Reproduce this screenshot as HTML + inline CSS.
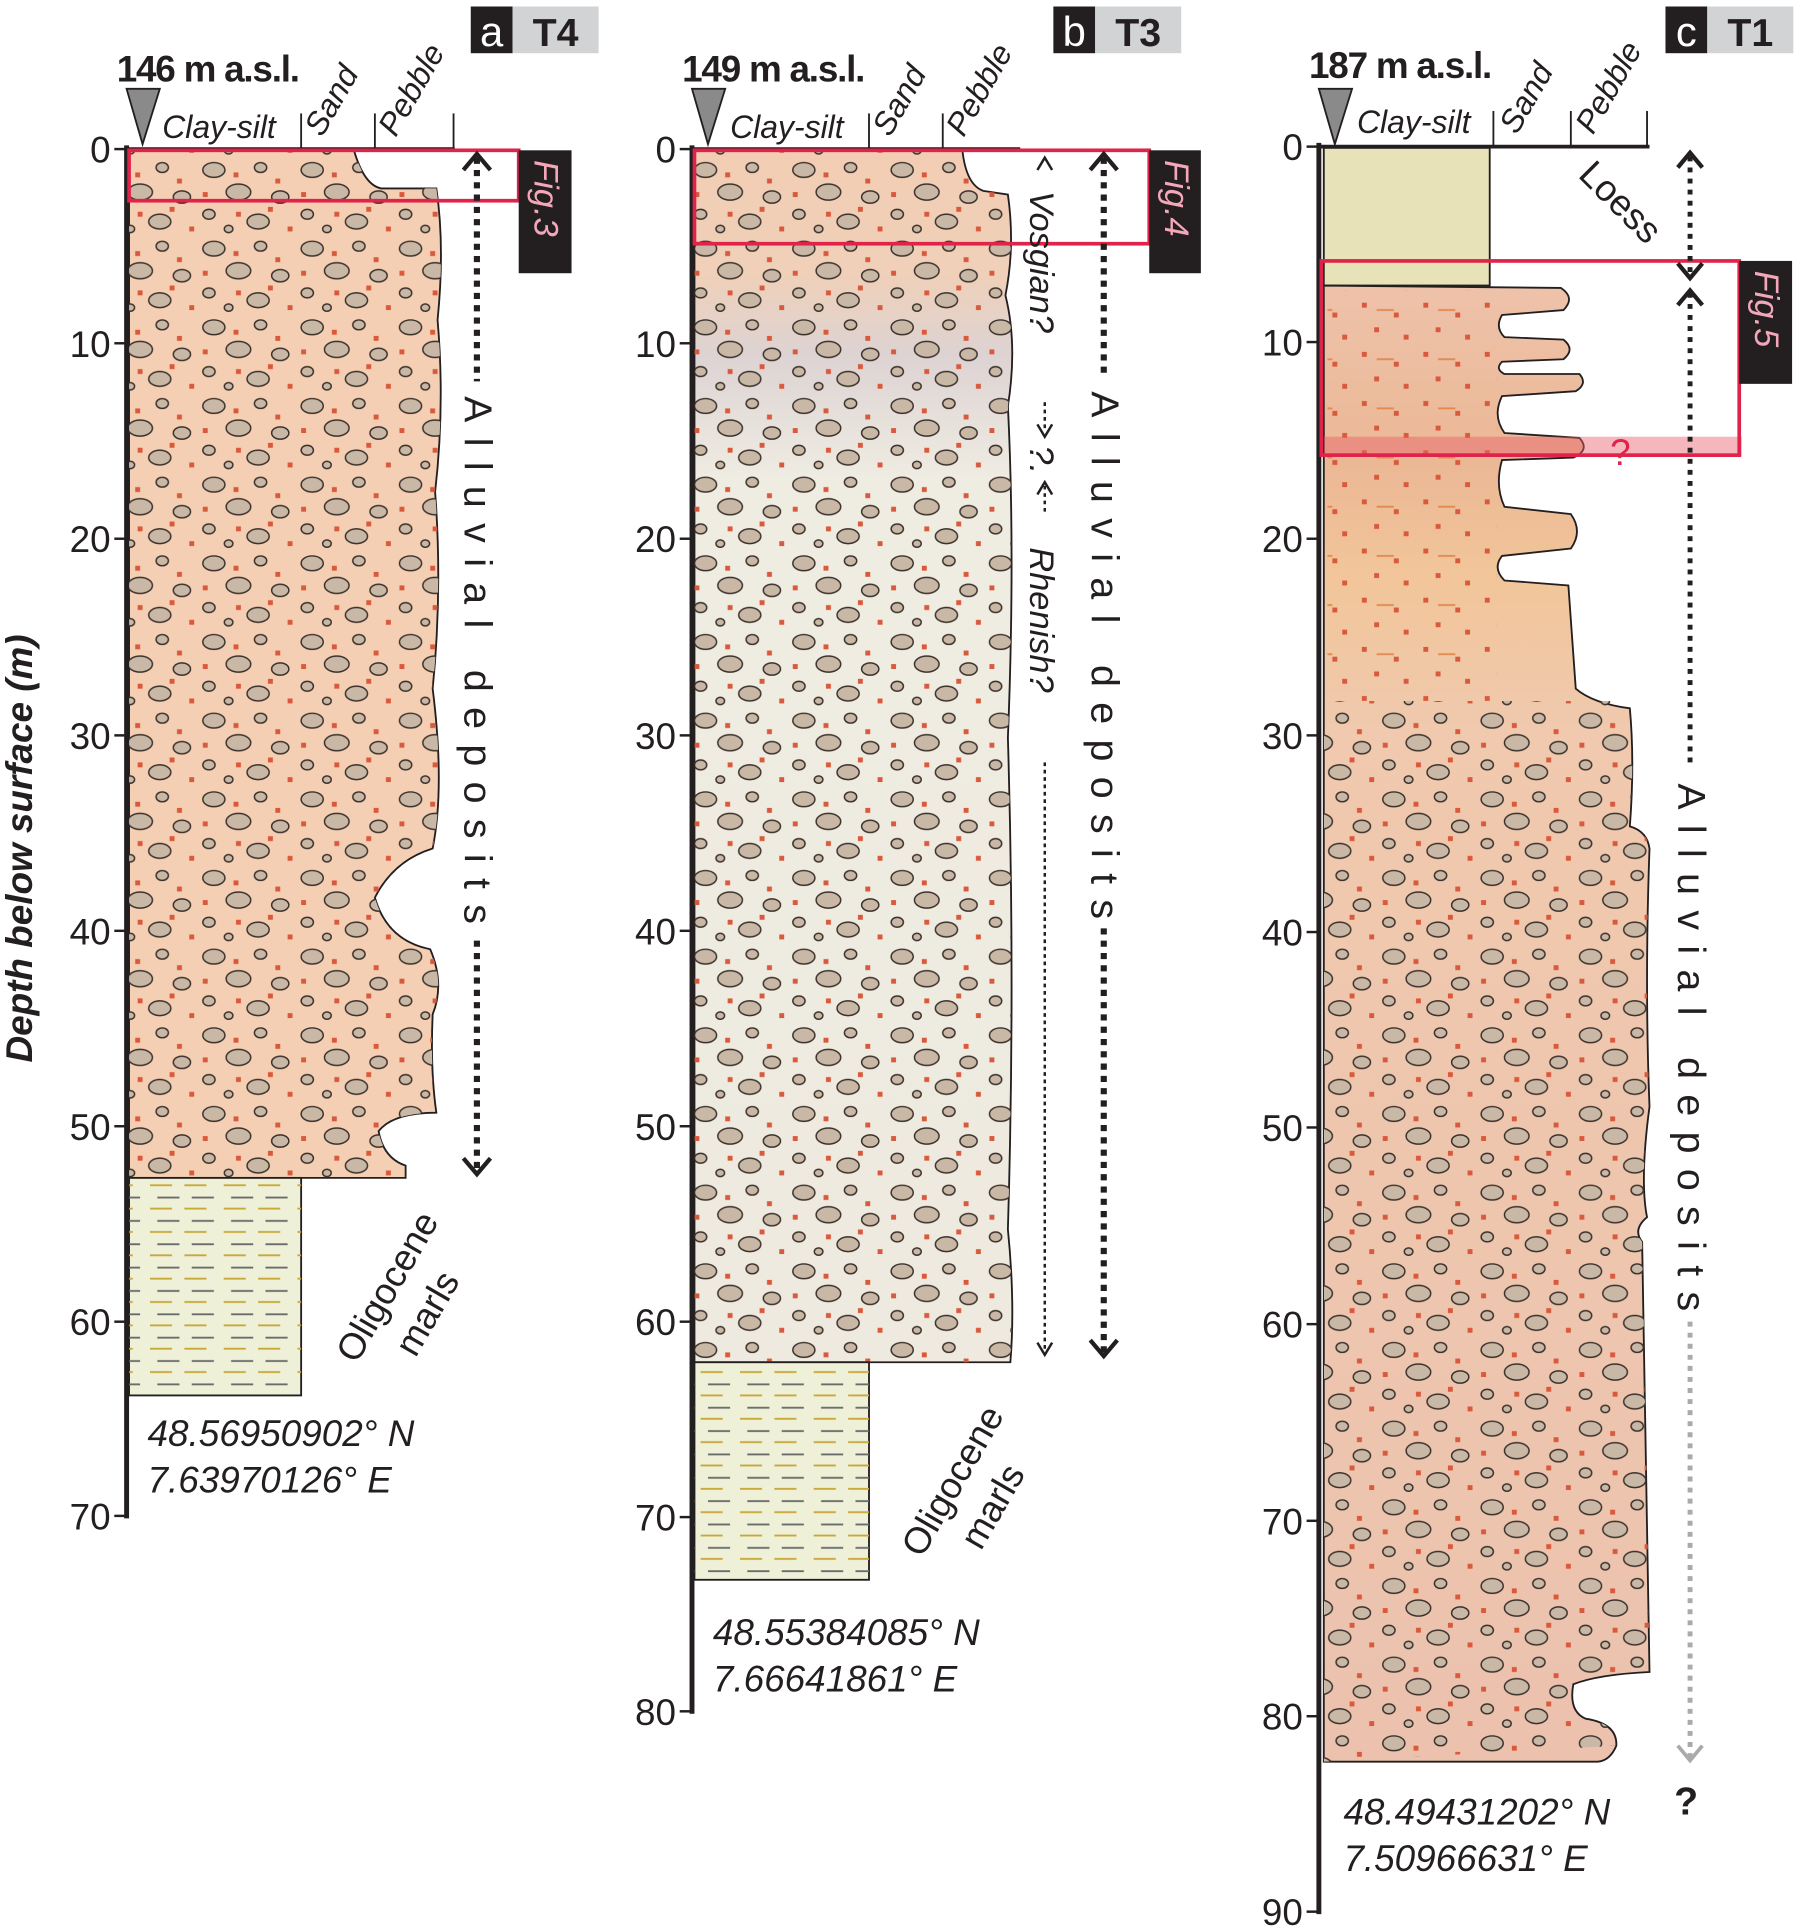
<!DOCTYPE html>
<html><head><meta charset="utf-8"><style>
html,body{margin:0;padding:0;background:#fff}
svg{display:block}
text{font-family:"Liberation Sans",sans-serif;fill:#231f20}
</style></head><body>
<svg width="1797" height="1928" viewBox="0 0 1462 1568" xmlns="http://www.w3.org/2000/svg">
<defs>
<pattern id="peb" width="80" height="64" patternUnits="userSpaceOnUse">
<g fill="#c9b8a6" stroke="#3a302a" stroke-width="1.2">
<ellipse cx="14" cy="10" rx="9" ry="6"/><ellipse cx="52" cy="8" rx="5" ry="4"/>
<ellipse cx="34" cy="28" rx="10" ry="6.5"/><ellipse cx="68" cy="32" rx="7" ry="5"/>
<ellipse cx="10" cy="46" rx="5" ry="4"/><ellipse cx="50" cy="52" rx="9" ry="6"/>
<ellipse cx="26" cy="58" rx="3.5" ry="3"/>
</g>
<g fill="#d9593c"><rect x="30" y="12" width="4" height="4"/><rect x="64" y="17" width="4" height="4"/><rect x="5" y="28" width="4" height="4"/><rect x="58" y="40" width="4" height="4"/><rect x="32" y="44" width="4" height="4"/><rect x="74" y="56" width="4" height="4"/></g>
</pattern>
<pattern id="dots" width="50" height="40" patternUnits="userSpaceOnUse">
<g fill="#d9593c"><rect x="8" y="6" width="4" height="4"/><rect x="34" y="14" width="4" height="4"/><rect x="18" y="26" width="4" height="4"/><rect x="42" y="32" width="4" height="4"/></g>
<g stroke="#e08a50" stroke-width="1.5"><line x1="20" y1="12" x2="34" y2="12"/></g>
</pattern>
<pattern id="marl" width="60" height="19" patternUnits="userSpaceOnUse">
<line x1="8" y1="5" x2="26" y2="5" stroke="#6b6b6b" stroke-width="1.5"/><line x1="36" y1="5" x2="54" y2="5" stroke="#6b6b6b" stroke-width="1.5"/>
<line x1="2" y1="14" x2="20" y2="14" stroke="#c9a83a" stroke-width="1.5"/><line x1="30" y1="14" x2="48" y2="14" stroke="#c9a83a" stroke-width="1.5"/>
</pattern>
<linearGradient id="gb" x1="0" y1="0" x2="0" y2="1">
<stop offset="0" stop-color="#f2cdb4"/><stop offset="0.1" stop-color="#f0d0b8"/><stop offset="0.17" stop-color="#ddd3d3"/><stop offset="0.27" stop-color="#efece2"/><stop offset="1" stop-color="#eeeadf"/>
</linearGradient>
<linearGradient id="gc" x1="0" y1="0" x2="0" y2="1">
<stop offset="0" stop-color="#eec2aa"/><stop offset="0.12" stop-color="#ebb895"/><stop offset="0.2" stop-color="#f2c69a"/><stop offset="0.3" stop-color="#f0c9ae"/><stop offset="1" stop-color="#ecc2ae"/>
</linearGradient>
</defs>

<text transform="translate(26,690) rotate(-90)" text-anchor="middle" font-size="30" font-weight="bold" font-style="italic">Depth below surface (m)</text>

<!-- ===== Column a ===== -->
<path id="pa" d="M105 122 L288 122 Q296 150 310 153 L355 153 Q362 200 356 260 Q362 330 354 400 Q360 480 352 560 Q362 640 352 690 Q320 700 305 730 Q315 765 350 772 Q362 800 352 825 Q350 870 355 905 Q320 905 308 920 Q312 942 330 948 L330 958 L105 958 Z" fill="#f4cfb3" stroke="#231f20" stroke-width="1.5"/>
<path d="M105 122 L288 122 Q296 150 310 153 L355 153 Q362 200 356 260 Q362 330 354 400 Q360 480 352 560 Q362 640 352 690 Q320 700 305 730 Q315 765 350 772 Q362 800 352 825 Q350 870 355 905 Q320 905 308 920 Q312 942 330 948 L330 958 L105 958 Z" fill="url(#peb)"/>
<rect x="105" y="958" width="140" height="177" fill="#eef0d8" stroke="#231f20" stroke-width="1.5"/>
<rect x="105" y="962" width="140" height="170" fill="url(#marl)"/>
<line x1="103" y1="118" x2="103" y2="1235" stroke="#231f20" stroke-width="4"/>
<line x1="103" y1="121" x2="370" y2="121" stroke="#231f20" stroke-width="3"/>
<g stroke="#231f20" stroke-width="1.5"><line x1="245" y1="92" x2="245" y2="120"/><line x1="305" y1="92" x2="305" y2="120"/><line x1="369" y1="92" x2="369" y2="120"/></g>
<g stroke="#231f20" stroke-width="2">
<line x1="93" y1="121" x2="103" y2="121"/><line x1="93" y1="279" x2="103" y2="279"/><line x1="93" y1="438" x2="103" y2="438"/><line x1="93" y1="598" x2="103" y2="598"/><line x1="93" y1="757" x2="103" y2="757"/><line x1="93" y1="916" x2="103" y2="916"/><line x1="93" y1="1075" x2="103" y2="1075"/><line x1="93" y1="1233" x2="103" y2="1233"/></g>
<g font-size="30" text-anchor="end">
<text x="90" y="132">0</text><text x="90" y="290">10</text><text x="90" y="449">20</text><text x="90" y="609">30</text><text x="90" y="768">40</text><text x="90" y="927">50</text><text x="90" y="1086">60</text><text x="90" y="1244">70</text></g>
<polygon points="103,72 130,72 116,117" fill="#8a8a8a" stroke="#231f20" stroke-width="1.5"/>
<text x="95" y="66" font-size="30" font-weight="bold" letter-spacing="-1">146 m a.s.l.</text>
<text x="132" y="112" font-size="26" font-style="italic">Clay-silt</text>
<text transform="translate(262,112) rotate(-60)" font-size="26" font-style="italic">Sand</text>
<text transform="translate(322,112) rotate(-60)" font-size="26" font-style="italic">Pebble</text>
<rect x="383" y="5" width="34" height="38" fill="#231f20"/><text x="400" y="37" font-size="34" text-anchor="middle" style="fill:#fff">a</text>
<rect x="417" y="5" width="70" height="38" fill="#d2d3d5"/><text x="452" y="37" font-size="32" font-weight="bold" text-anchor="middle">T4</text>
<rect x="105" y="122" width="317" height="41" fill="none" stroke="#e0234a" stroke-width="3"/>
<rect x="422" y="122" width="43" height="100" fill="#231f20"/>
<text transform="translate(435,130) rotate(90)" font-size="28" font-style="italic" style="fill:#f4a7b9">Fig.3</text>
<line x1="388" y1="128" x2="388" y2="310" stroke="#231f20" stroke-width="5" stroke-dasharray="5 5"/>
<line x1="388" y1="765" x2="388" y2="952" stroke="#231f20" stroke-width="5" stroke-dasharray="5 5"/>
<path d="M377 138 L388 125 L399 138" fill="none" stroke="#231f20" stroke-width="3.5"/>
<path d="M377 942 L388 955 L399 942" fill="none" stroke="#231f20" stroke-width="3.5"/>
<text transform="translate(378,322) rotate(90)" font-size="32" letter-spacing="12.5">Alluvial deposits</text>
<text transform="translate(290,1110) rotate(-60)" font-size="30">Oligocene</text>
<text transform="translate(338,1105) rotate(-60)" font-size="30">marls</text>
<text x="120" y="1176" font-size="30" font-style="italic">48.56950902° N</text>
<text x="120" y="1214" font-size="30" font-style="italic">7.63970126° E</text>

<!-- ===== Column b ===== -->
<path d="M565 122 L783 122 Q786 150 800 155 L820 158 Q826 200 818 240 Q828 280 820 330 Q826 450 820 600 Q826 800 820 1000 Q826 1060 822 1108 L565 1108 Z" fill="url(#gb)" stroke="#231f20" stroke-width="1.5"/>
<path d="M565 122 L783 122 Q786 150 800 155 L820 158 Q826 200 818 240 Q828 280 820 330 Q826 450 820 600 Q826 800 820 1000 Q826 1060 822 1108 L565 1108 Z" fill="url(#peb)"/>
<rect x="565" y="1108" width="142" height="177" fill="#eef0d8" stroke="#231f20" stroke-width="1.5"/>
<rect x="565" y="1112" width="142" height="170" fill="url(#marl)"/>
<line x1="563" y1="118" x2="563" y2="1394" stroke="#231f20" stroke-width="4"/>
<line x1="563" y1="121" x2="830" y2="121" stroke="#231f20" stroke-width="3"/>
<g stroke="#231f20" stroke-width="1.5"><line x1="707" y1="92" x2="707" y2="120"/><line x1="767" y1="92" x2="767" y2="120"/></g>
<g stroke="#231f20" stroke-width="2">
<line x1="553" y1="121" x2="563" y2="121"/><line x1="553" y1="279" x2="563" y2="279"/><line x1="553" y1="438" x2="563" y2="438"/><line x1="553" y1="598" x2="563" y2="598"/><line x1="553" y1="757" x2="563" y2="757"/><line x1="553" y1="916" x2="563" y2="916"/><line x1="553" y1="1075" x2="563" y2="1075"/><line x1="553" y1="1234" x2="563" y2="1234"/><line x1="553" y1="1392" x2="563" y2="1392"/></g>
<g font-size="30" text-anchor="end">
<text x="550" y="132">0</text><text x="550" y="290">10</text><text x="550" y="449">20</text><text x="550" y="609">30</text><text x="550" y="768">40</text><text x="550" y="927">50</text><text x="550" y="1086">60</text><text x="550" y="1245">70</text><text x="550" y="1403">80</text></g>
<polygon points="563,72 590,72 576,117" fill="#8a8a8a" stroke="#231f20" stroke-width="1.5"/>
<text x="555" y="66" font-size="30" font-weight="bold" letter-spacing="-1">149 m a.s.l.</text>
<text x="594" y="112" font-size="26" font-style="italic">Clay-silt</text>
<text transform="translate(724,112) rotate(-60)" font-size="26" font-style="italic">Sand</text>
<text transform="translate(784,112) rotate(-60)" font-size="26" font-style="italic">Pebble</text>
<rect x="857" y="5" width="34" height="38" fill="#231f20"/><text x="874" y="37" font-size="34" text-anchor="middle" style="fill:#fff">b</text>
<rect x="891" y="5" width="70" height="38" fill="#d2d3d5"/><text x="926" y="37" font-size="32" font-weight="bold" text-anchor="middle">T3</text>
<rect x="565" y="122" width="370" height="76" fill="none" stroke="#e0234a" stroke-width="3"/>
<rect x="935" y="122" width="42" height="100" fill="#231f20"/>
<text transform="translate(948,130) rotate(90)" font-size="28" font-style="italic" style="fill:#f4a7b9">Fig.4</text>
<line x1="898" y1="128" x2="898" y2="305" stroke="#231f20" stroke-width="5" stroke-dasharray="5 5"/>
<line x1="898" y1="755" x2="898" y2="1100" stroke="#231f20" stroke-width="5" stroke-dasharray="5 5"/>
<path d="M887 138 L898 125 L909 138" fill="none" stroke="#231f20" stroke-width="3.5"/>
<path d="M887 1090 L898 1103 L909 1090" fill="none" stroke="#231f20" stroke-width="3.5"/>
<text transform="translate(888,318) rotate(90)" font-size="32" letter-spacing="12.5">Alluvial deposits</text>
<path d="M844 138 L850 128 L856 138" fill="none" stroke="#231f20" stroke-width="2"/>
<text transform="translate(838,155) rotate(90)" font-size="28" font-style="italic">Vosgian?</text>
<text transform="translate(838,362) rotate(90)" font-size="28" font-style="italic">?.</text>
<text transform="translate(838,445) rotate(90)" font-size="28" font-style="italic">Rhenish?</text>
<line x1="850" y1="327" x2="850" y2="350" stroke="#231f20" stroke-width="2" stroke-dasharray="3 3"/>
<path d="M844 345 L850 355 L856 345" fill="none" stroke="#231f20" stroke-width="2"/>
<line x1="850" y1="395" x2="850" y2="418" stroke="#231f20" stroke-width="2" stroke-dasharray="3 3"/>
<path d="M844 402 L850 392 L856 402" fill="none" stroke="#231f20" stroke-width="2"/>
<line x1="850" y1="620" x2="850" y2="1100" stroke="#231f20" stroke-width="2" stroke-dasharray="3 3"/>
<path d="M844 1092 L850 1102 L856 1092" fill="none" stroke="#231f20" stroke-width="2"/>
<text x="580" y="1338" font-size="30" font-style="italic">48.55384085° N</text>
<text x="580" y="1376" font-size="30" font-style="italic">7.66641861° E</text>
<text transform="translate(750,1268) rotate(-60)" font-size="30">Oligocene</text>
<text transform="translate(798,1262) rotate(-60)" font-size="30">marls</text>

<!-- ===== Column c ===== -->
<rect x="1077" y="120" width="135" height="112" fill="#e7e2b8" stroke="#231f20" stroke-width="1.5"/>
<path d="M1077 232 L1270 234 Q1282 242 1272 252 L1222 256 Q1216 266 1224 274 L1272 276 Q1282 284 1272 292 L1222 294 Q1216 300 1224 304 L1285 304 Q1292 312 1282 318 L1222 322 Q1214 338 1224 352 L1285 356 Q1294 366 1280 372 L1222 374 Q1216 395 1224 412 L1278 418 Q1288 432 1278 446 L1222 452 Q1214 462 1224 472 L1276 476 L1282 560 Q1296 572 1326 576 Q1330 620 1326 672 Q1340 676 1342 690 Q1338 800 1342 900 Q1334 960 1340 990 Q1328 1000 1336 1010 Q1340 1200 1342 1360 Q1300 1362 1280 1370 Q1276 1392 1290 1398 Q1316 1402 1315 1420 Q1310 1432 1300 1433 L1077 1433 Z" fill="url(#gc)" stroke="#231f20" stroke-width="1.5"/>
<clipPath id="cc"><path d="M1077 570 L1326 570 Q1330 620 1326 672 Q1340 676 1342 690 Q1338 800 1342 900 Q1334 960 1340 990 Q1328 1000 1336 1010 Q1340 1200 1342 1360 Q1300 1362 1280 1370 Q1276 1392 1290 1398 Q1316 1402 1315 1420 L1077 1433 Z"/></clipPath>
<rect x="1077" y="570" width="270" height="865" fill="url(#peb)" clip-path="url(#cc)"/>
<clipPath id="cs"><rect x="1079" y="236" width="200" height="334"/></clipPath>
<rect x="1080" y="236" width="138" height="334" fill="url(#dots)"/>
<rect x="1077" y="355" width="340" height="16" fill="#e8606a" opacity="0.45"/>
<line x1="1073" y1="116" x2="1073" y2="1557" stroke="#231f20" stroke-width="4"/>
<line x1="1073" y1="119" x2="1342" y2="119" stroke="#231f20" stroke-width="3"/>
<g stroke="#231f20" stroke-width="1.5"><line x1="1215" y1="90" x2="1215" y2="118"/><line x1="1278" y1="90" x2="1278" y2="118"/><line x1="1340" y1="90" x2="1340" y2="118"/></g>
<g stroke="#231f20" stroke-width="2">
<line x1="1063" y1="119" x2="1073" y2="119"/><line x1="1063" y1="278" x2="1073" y2="278"/><line x1="1063" y1="438" x2="1073" y2="438"/><line x1="1063" y1="598" x2="1073" y2="598"/><line x1="1063" y1="758" x2="1073" y2="758"/><line x1="1063" y1="917" x2="1073" y2="917"/><line x1="1063" y1="1077" x2="1073" y2="1077"/><line x1="1063" y1="1237" x2="1073" y2="1237"/><line x1="1063" y1="1396" x2="1073" y2="1396"/><line x1="1063" y1="1555" x2="1073" y2="1555"/></g>
<g font-size="30" text-anchor="end">
<text x="1060" y="130">0</text><text x="1060" y="289">10</text><text x="1060" y="449">20</text><text x="1060" y="609">30</text><text x="1060" y="769">40</text><text x="1060" y="928">50</text><text x="1060" y="1088">60</text><text x="1060" y="1248">70</text><text x="1060" y="1407">80</text><text x="1060" y="1566">90</text></g>
<polygon points="1073,72 1100,72 1086,117" fill="#8a8a8a" stroke="#231f20" stroke-width="1.5"/>
<text x="1065" y="63" font-size="30" font-weight="bold" letter-spacing="-1">187 m a.s.l.</text>
<text x="1104" y="108" font-size="26" font-style="italic">Clay-silt</text>
<text transform="translate(1234,110) rotate(-60)" font-size="26" font-style="italic">Sand</text>
<text transform="translate(1296,110) rotate(-60)" font-size="26" font-style="italic">Pebble</text>
<rect x="1355" y="5" width="34" height="38" fill="#231f20"/><text x="1372" y="37" font-size="34" text-anchor="middle" style="fill:#fff">c</text>
<rect x="1389" y="5" width="70" height="38" fill="#d2d3d5"/><text x="1424" y="37" font-size="32" font-weight="bold" text-anchor="middle">T1</text>
<rect x="1075" y="212" width="340" height="158" fill="none" stroke="#e0234a" stroke-width="3"/>
<rect x="1415" y="212" width="43" height="100" fill="#231f20"/>
<text transform="translate(1428,220) rotate(90)" font-size="28" font-style="italic" style="fill:#f4a7b9">Fig.5</text>
<text x="1310" y="378" font-size="30" style="fill:#e0234a">?</text>
<text transform="translate(1283,143) rotate(45)" font-size="30">Loess</text>
<line x1="1375" y1="127" x2="1375" y2="222" stroke="#231f20" stroke-width="4" stroke-dasharray="4 5"/>
<path d="M1365 136 L1375 124 L1385 136" fill="none" stroke="#231f20" stroke-width="3.5"/>
<path d="M1365 214 L1375 226 L1385 214" fill="none" stroke="#231f20" stroke-width="3.5"/>
<line x1="1375" y1="238" x2="1375" y2="625" stroke="#231f20" stroke-width="4" stroke-dasharray="4 5"/>
<path d="M1365 248 L1375 236 L1385 248" fill="none" stroke="#231f20" stroke-width="3.5"/>
<line x1="1375" y1="1075" x2="1375" y2="1430" stroke="#aaa" stroke-width="4" stroke-dasharray="4 5"/>
<path d="M1365 1420 L1375 1432 L1385 1420" fill="none" stroke="#aaa" stroke-width="3"/>
<text transform="translate(1365,637) rotate(90)" font-size="32" letter-spacing="12.5">Alluvial deposits</text>
<text x="1362" y="1476" font-size="32" font-weight="bold">?</text>
<text x="1093" y="1484" font-size="30" font-style="italic">48.49431202° N</text>
<text x="1093" y="1522" font-size="30" font-style="italic">7.50966631° E</text>
</svg>
</body></html>
